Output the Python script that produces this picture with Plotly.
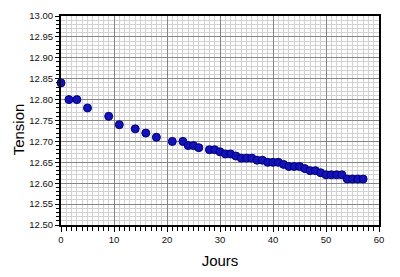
import plotly.graph_objects as go

jours = [0, 1.5, 3, 5, 9, 11, 14, 16, 18, 21, 23, 24, 25, 26, 28, 29, 30, 31, 32, 33,
         34, 35, 36, 37, 38, 39, 40, 41, 42, 43, 44, 45, 46, 47, 48, 49, 50, 51, 52, 53,
         54, 55, 56, 57]
tension = [12.84, 12.80, 12.80, 12.78, 12.76, 12.74, 12.73, 12.72, 12.71, 12.70, 12.70,
           12.69, 12.69, 12.685, 12.68, 12.68, 12.675, 12.67, 12.67, 12.665, 12.66, 12.66,
           12.66, 12.655, 12.655, 12.65, 12.65, 12.65, 12.645, 12.64, 12.64, 12.64, 12.635,
           12.63, 12.63, 12.625, 12.62, 12.62, 12.62, 12.62, 12.61, 12.61, 12.61, 12.61]

fig = go.Figure(go.Scatter(
    x=jours, y=tension, mode="markers", cliponaxis=False,
    marker=dict(size=8, color="#1212b8", line=dict(color="#00007a", width=1)),
))

font = "Liberation Sans, Arial, sans-serif"
fig.update_layout(
    width=400, height=277,
    margin=dict(l=61, r=21, t=10, b=44),
    paper_bgcolor="white", plot_bgcolor="white",
    showlegend=False,
    font=dict(family=font, color="#111", size=9),
    annotations=[
        dict(text="Tension", xref="paper", yref="y", x=-0.135, y=12.729,
             textangle=-90, showarrow=False, xanchor="center", yanchor="middle",
             font=dict(size=15, family=font, color="black")),
    ],
)
fig.update_xaxes(
    range=[0, 60], dtick=10, tick0=0,
    showline=True, linecolor="black", linewidth=2, mirror=True,
    ticks="outside", ticklen=5, tickcolor="black", tickwidth=1,
    showgrid=True, gridcolor="#858585", gridwidth=1, zeroline=False,
    minor=dict(dtick=1, ticks="outside", ticklen=4, tickcolor="black",
               showgrid=True, gridcolor="#d2d2d2", gridwidth=1),
    tickfont=dict(size=9.5, family=font, color="#111"),
    title=dict(text="Jours", font=dict(size=15, family=font, color="black"), standoff=11),
)
fig.update_yaxes(
    range=[12.5, 13.0], dtick=0.05, tick0=12.5, tickformat=".2f",
    showline=True, linecolor="black", linewidth=2, mirror=True,
    ticks="outside", ticklen=4, tickcolor="black", tickwidth=1,
    showgrid=True, gridcolor="#858585", gridwidth=1, zeroline=False,
    minor=dict(dtick=0.01, ticks="outside", ticklen=3, tickcolor="black",
               showgrid=True, gridcolor="#d2d2d2", gridwidth=1),
    tickfont=dict(size=9.5, family=font, color="#111"),
)

fig.write_html("out.html")
